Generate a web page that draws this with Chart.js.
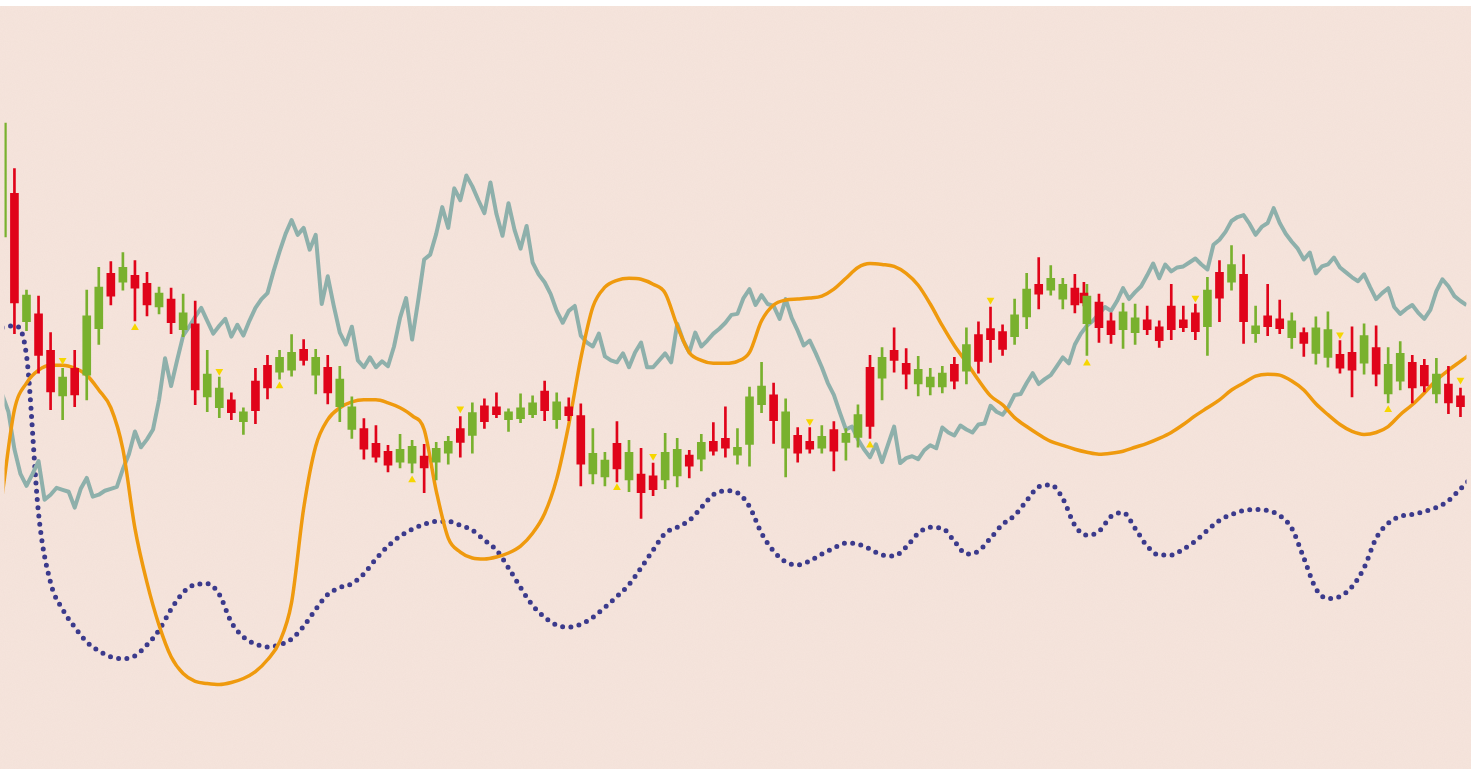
<!DOCTYPE html>
<html>
<head>
<meta charset="utf-8">
<title>Candles with indicator lines</title>
<script src="https://cdn.jsdelivr.net/npm/chart.js"></script>
<style>
	html, body { margin: 0; padding: 0; background: #ffffff; overflow: hidden; }
	#wrap {
		margin-top: 6px; width: 1471px; height: 763px; background-color: #f6e4dc;
		background-image: url("data:image/svg+xml;utf8,<svg xmlns='http://www.w3.org/2000/svg' width='300' height='300'><filter id='n'><feTurbulence type='fractalNoise' baseFrequency='0.9' numOctaves='2' stitchTiles='stitch'/><feColorMatrix values='0 0 0 0 0.55  0 0 0 0 0.45  0 0 0 0 0.4  0 0 0 0.06 0'/></filter><rect width='300' height='300' filter='url(%23n)'/></svg>");
	}
</style>
</head>
<body>
<div id="wrap"><canvas id="mycanvas"></canvas></div>
<script>
// price data, one entry per session (session 89 has a second, late print)
var open = [565,609,479,487,450,404,432,425,472,528, 519,526,518,494,502,471,477,403,392,400,
	378,419,435,428,430,451,425,433,393,370, 371,356,348,337,336,343,337,346,371,364,
	394,393,380,381,385,409,380,393,384,325, 322,356,319,325,323,319,323,344,340,358,
	361,344,355,395,405,351,364,358,351,370, 357,362,433,422,450,437,416,413,413,436,
	429,466,472,469,464,484,517,511,502,513,508, 477,499,480,471,468,481,474,495,481,488,
	474,529,519,527,467,485,482,463,468,447, 443,446,448,437,453,406,419,438,435,406, 416,404];
var high = [682,634,511,505,468,432,450,511,534,540, 549,541,529,514,513,507,500,450,423,407,
	392,432,445,450,466,461,451,445,434,403, 381,374,354,365,359,355,357,363,383,397,
	401,407,391,406,404,419,407,402,396,371, 347,378,359,351,336,366,361,349,365,377,
	393,371,413,438,417,401,372,372,374,378, 371,395,445,453,473,452,444,432,434,443,
	473,479,494,476,502,528,544,536,523,527,519, 517,507,488,498,497,495,480,517,495,497,
	524,541,556,547,495,517,501,488,473,484, 489,460,474,477,475,453,459,445,441,442, 434,412];
var low = [560,467,470,427,390,380,393,400,456,496, 511,480,485,487,467,464,395,388,382,380,
	365,376,401,421,424,435,406,396,378,361, 340,337,327,331,326,306,319,335,342,346,
	371,382,368,377,382,379,371,379,313,315, 313,317,307,280,303,310,312,321,328,344,
	342,335,333,387,356,322,337,346,346,328, 339,352,361,400,428,411,404,405,407,411,
	416,427,438,445,456,472,492,506,492,488,495, 445,458,457,452,456,466,453,461,469,461,
	445,479,511,457,458,465,467,452,444,436, 433,427,403,426,414,397,410,397,408,397, 386,383];
var close = [680,498,506,445,408,423,405,485,514,505, 534,513,496,508,478,488,410,426,412,387,
	388,389,412,443,448,440,443,407,421,393, 350,342,334,350,353,331,351,358,357,387,
	378,385,388,392,397,389,398,384,335,346, 339,330,347,306,309,347,350,333,357,348,
	351,352,403,414,379,388,346,350,363,348, 366,385,373,443,440,426,431,423,427,419,
	456,439,461,451,486,512,507,523,517,496,498, 505,473,466,489,483,471,460,471,473,469,
	511,503,537,479,475,474,472,480,457,473, 471,432,430,465,426,436,447,412,414,426, 397,393];

// fast line, sampled twice per session
var fastLine = [405,388,350,325,313,325,338,299,304,311, 309,307,291,310,321,302,304,308,310,312,
	330,345,368,352,360,370,400,442,414,440, 465,474,484,493,480,467,475,482,464,476,
	465,480,493,502,508,530,550,568,582,567, 574,552,567,497,525,495,468,456,474,440,
	433,443,433,439,434,454,483,503,461,500, 542,547,568,595,574,614,602,627,616,602,
	589,620,588,566,599,572,553,576,539,527, 519,507,490,478,490,495,465,458,454,467,
	444,440,438,447,433,448,458,433,433,440, 447,438,477,460,448,468,454,460,467,472,
	478,486,487,503,512,496,506,497,495,482, 502,483,470,455,460,447,433,417,405,387,
	370,373,360,350,342,355,337,355,373,336, 341,343,340,349,354,351,372,367,364,374,
	370,367,375,376,394,388,385,393,405,406, 417,427,416,421,425,434,443,437,456,467,
	475,480,487,494,490,500,513,502,509,515, 526,538,523,537,530,534,535,539,543,537,
	532,557,562,570,581,585,587,578,567,575, 579,594,579,568,560,553,542,549,528,535,
	537,544,534,529,524,520,527,514,502,508, 513,494,487,492,496,488,482,491,510,522,
	515,505,500,496];

// slow oscillators, one value per session
var slowLine = [305,390,417,430,435,435,432,425,410,392, 350,270,215,172,140,123,115,113,112,114,
	118,125,137,155,195,290,353,380,392,398, 400,400,397,392,384,370,308,260,246,240,
	239,241,245,252,265,285,320,375,442,494, 514,521,523,522,517,508,475,448,440,437,
	437,439,448,480,496,501,502,503,505,512, 523,534,538,537,535,528,516,497,475,455,
	438,420,404,395,382,373,365,358,354,350, 347,345,346,348,352,356,361,367,375,384,
	392,400,410,417,424,426,425,419,410,396, 385,375,368,365,367,373,385,395,407,420, 430,439,448];
var trendLine = [473,475,445,285,215,188,170,155,146,140, 138,141,152,167,188,205,213,214,203,175,
	160,153,150,152,158,171,188,203,210,214, 224,239,252,262,269,274,277,277,273,268,
	258,248,230,210,192,180,172,170,173,180, 190,201,213,230,248,265,271,278,291,304,
	308,306,292,265,247,236,233,237,244,250, 255,254,249,243,242,251,265,271,270,257,
	244,247,260,274,283,298,312,314,300,273, 263,267,282,286,270,252,243,243,249,257,
	268,278,284,288,289,288,283,270,240,209, 199,201,211,230,260,275,282,284,287,291, 298,310,322];

// signals
var sellDays = [5,18,38,54,67,82,99,111,121];
var sellLevels = [440,429,391,343,378,501,503,466,420];
var buyDays = [11,23,34,51,72,90,115];
var buyLevels = [473,414,319,311,354,437,390];

var upColor = '#79b12e';
var downColor = '#e0041a';

var days = [];
for (var i = 0; i <= 121; i++) {
	days.push(i);
	if (i === 89) days.push(89.75);
}

var bodies = [], wicks = [], colors = [];
for (var i = 0; i < days.length; i++) {
	bodies.push({x: days[i], y: [open[i], close[i]]});
	wicks.push({x: days[i], y: [low[i], high[i]]});
	colors.push(close[i] >= open[i] ? upColor : downColor);
}

var fastPts = [];
for (var i = 0; i < fastLine.length; i++) {
	fastPts.push({x: i / 2, y: fastLine[i]});
}
var slowPts = [], trendPts = [];
for (var i = 0; i < slowLine.length; i++) {
	slowPts.push({x: i, y: slowLine[i]});
	trendPts.push({x: i, y: trendLine[i]});
}
var sellPts = [], buyPts = [];
for (var i = 0; i < sellDays.length; i++) sellPts.push({x: sellDays[i], y: sellLevels[i]});
for (var i = 0; i < buyDays.length; i++) buyPts.push({x: buyDays[i], y: buyLevels[i]});

var chartdata = {
	datasets: [
		{
			type: 'scatter',
			data: sellPts,
			pointStyle: 'triangle',
			rotation: 180,
			pointRadius: 4.5,
			backgroundColor: '#f6d600',
			borderWidth: 0,
			order: 0
		},
		{
			type: 'scatter',
			data: buyPts,
			pointStyle: 'triangle',
			pointRadius: 4.5,
			backgroundColor: '#f6d600',
			borderWidth: 0,
			order: 0
		},
		{
			type: 'bar',
			data: bodies,
			backgroundColor: colors,
			barThickness: 8,
			grouped: false,
			order: 1
		},
		{
			type: 'bar',
			data: wicks,
			backgroundColor: colors,
			barThickness: 2,
			grouped: false,
			order: 2
		},
		{
			type: 'line',
			data: slowPts,
			borderColor: '#ef9a0e',
			borderWidth: 3.5,
			pointRadius: 0,
			cubicInterpolationMode: 'monotone',
			order: 3
		},
		{
			type: 'line',
			data: fastPts,
			borderColor: '#8eb0ab',
			borderWidth: 4,
			borderJoinStyle: 'round',
			pointRadius: 0,
			tension: 0,
			order: 4
		},
		{
			type: 'line',
			data: trendPts,
			borderColor: '#3b3a8c',
			borderWidth: 5,
			borderDash: [0, 8.3],
			borderCapStyle: 'round',
			pointRadius: 0,
			cubicInterpolationMode: 'monotone',
			order: 5
		}
	]
};

var cxt = document.getElementById('mycanvas');
var chart = new Chart(cxt, {
	type: 'bar',
	data: chartdata,
	options: {
		animation: false,
		responsive: true,
		maintainAspectRatio: false,
		layout: { padding: 0 },
		events: [],
		plugins: {
			legend: { display: false },
			tooltip: { enabled: false }
		},
		scales: {
			x: { type: 'linear', min: 0.175, max: 121.5, offset: false, bounds: 'data', display: false },
			y: { min: 31, max: 794, display: false }
		}
	}
});
</script>
</body>
</html>
